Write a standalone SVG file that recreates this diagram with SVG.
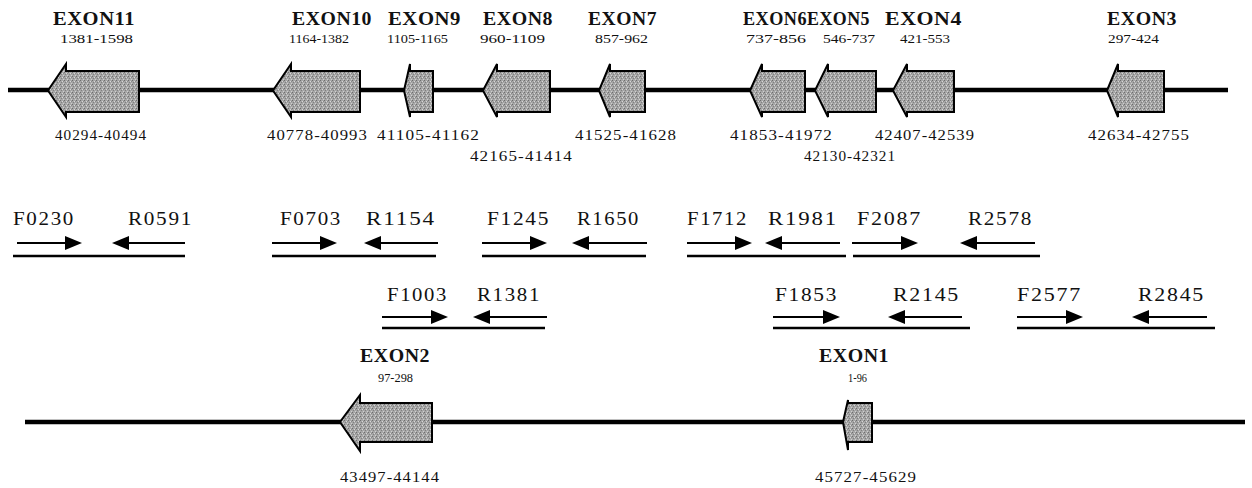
<svg xmlns="http://www.w3.org/2000/svg" width="1252" height="488" viewBox="0 0 1252 488">
<defs>
<style>
.ex{font-family:"Liberation Serif",serif;font-weight:bold;font-size:19px;fill:#111;letter-spacing:0.5px}
.sm{font-family:"Liberation Serif",serif;font-size:12.5px;fill:#111}
.num{font-family:"Liberation Serif",serif;font-size:15.5px;fill:#111;letter-spacing:1px}
.pr{font-family:"Liberation Serif",serif;font-size:19px;fill:#111;letter-spacing:1.5px}
.exon{fill:url(#stip);stroke:#000;stroke-width:2;stroke-linejoin:miter}
.bb{stroke:#000;stroke-width:4.5;fill:none}
.pa{stroke:#000;stroke-width:2;fill:none;marker-end:url(#ah)}
.ul{stroke:#000;stroke-width:2.5;fill:none}
</style>
<pattern id="stip" width="4" height="4" patternUnits="userSpaceOnUse">
<rect width="4" height="4" fill="#a6a6a6"/>
<rect x="0" y="0" width="1" height="1" fill="#6e6e6e"/>
<rect x="2" y="1" width="1" height="1" fill="#d8d8d8"/>
<rect x="1" y="2" width="1" height="1" fill="#808080"/>
<rect x="3" y="3" width="1" height="1" fill="#cfcfcf"/>
<rect x="3" y="1" width="1" height="1" fill="#8a8a8a"/>
</pattern>
<marker id="ah" markerUnits="userSpaceOnUse" markerWidth="17" markerHeight="14" refX="8" refY="7" orient="auto">
<path d="M0,0 L17,7 L0,14 z" fill="#000"/>
</marker>
</defs>
<rect width="1252" height="488" fill="#fff"/>

<g id="connectors">
<line class="bb" x1="8" y1="90" x2="1228" y2="90"/>
<line class="bb" x1="25" y1="422" x2="1245" y2="422"/>
<line class="ul" x1="13" y1="256" x2="185" y2="256"/>
<line class="ul" x1="272" y1="256" x2="436" y2="256"/>
<line class="ul" x1="482" y1="256" x2="646" y2="256"/>
<line class="ul" x1="687" y1="256" x2="846" y2="256"/>
<line class="ul" x1="853" y1="256" x2="1040" y2="256"/>
<line class="ul" x1="382" y1="328" x2="545" y2="328"/>
<line class="ul" x1="773" y1="328" x2="970" y2="328"/>
<line class="ul" x1="1017" y1="328" x2="1215" y2="328"/>
</g>

<g id="exon11">
<polygon class="exon" points="139,71 66,71 66,64 48,90.5 66,117 66,112 139,112"/>
<text class="ex" x="53" y="25" textLength="82" lengthAdjust="spacingAndGlyphs">EXON11</text>
<text class="sm" x="60" y="43" textLength="73" lengthAdjust="spacingAndGlyphs">1381-1598</text>
<text class="num" x="55" y="140" textLength="92" lengthAdjust="spacingAndGlyphs">40294-40494</text>
</g>
<g id="exon10">
<polygon class="exon" points="360,71 291,71 291,64 273,90.5 291,117 291,112 360,112"/>
<text class="ex" x="292" y="25" textLength="80" lengthAdjust="spacingAndGlyphs">EXON10</text>
<text class="sm" x="289" y="43" textLength="60" lengthAdjust="spacingAndGlyphs">1164-1382</text>
<text class="num" x="267" y="140" textLength="101" lengthAdjust="spacingAndGlyphs">40778-40993</text>
</g>
<g id="exon9">
<polygon class="exon" points="433,71 410,71 410,64 404,90.5 410,117 410,112 433,112"/>
<text class="ex" x="388" y="25" textLength="73" lengthAdjust="spacingAndGlyphs">EXON9</text>
<text class="sm" x="387" y="43" textLength="61" lengthAdjust="spacingAndGlyphs">1105-1165</text>
<text class="num" x="377" y="140" textLength="103" lengthAdjust="spacingAndGlyphs">41105-41162</text>
</g>
<g id="exon8">
<polygon class="exon" points="550,71 497,71 497,64 483,90.5 497,117 497,112 550,112"/>
<text class="ex" x="483" y="25" textLength="70" lengthAdjust="spacingAndGlyphs">EXON8</text>
<text class="sm" x="480" y="43" textLength="65" lengthAdjust="spacingAndGlyphs">960-1109</text>
<text class="num" x="470" y="161" textLength="103" lengthAdjust="spacingAndGlyphs">42165-41414</text>
</g>
<g id="exon7">
<polygon class="exon" points="645,71 610,71 610,64 599,90.5 610,117 610,112 645,112"/>
<text class="ex" x="588" y="25" textLength="69" lengthAdjust="spacingAndGlyphs">EXON7</text>
<text class="sm" x="595" y="43" textLength="53" lengthAdjust="spacingAndGlyphs">857-962</text>
<text class="num" x="575" y="140" textLength="102" lengthAdjust="spacingAndGlyphs">41525-41628</text>
</g>
<g id="exon6">
<polygon class="exon" points="805,71 762,71 762,64 750,90.5 762,117 762,112 805,112"/>
<text class="ex" x="743" y="25" textLength="64" lengthAdjust="spacingAndGlyphs">EXON6</text>
<text class="sm" x="746" y="43" textLength="60" lengthAdjust="spacingAndGlyphs">737-856</text>
<text class="num" x="730" y="140" textLength="103" lengthAdjust="spacingAndGlyphs">41853-41972</text>
</g>
<g id="exon5">
<polygon class="exon" points="876,71 828,71 828,64 815,90.5 828,117 828,112 876,112"/>
<text class="ex" x="807" y="25" textLength="63" lengthAdjust="spacingAndGlyphs">EXON5</text>
<text class="sm" x="823" y="43" textLength="52" lengthAdjust="spacingAndGlyphs">546-737</text>
<text class="num" x="804" y="161" textLength="92" lengthAdjust="spacingAndGlyphs">42130-42321</text>
</g>
<g id="exon4">
<polygon class="exon" points="954,71 907,71 907,64 893,90.5 907,117 907,112 954,112"/>
<text class="ex" x="885" y="25" textLength="77" lengthAdjust="spacingAndGlyphs">EXON4</text>
<text class="sm" x="900" y="43" textLength="50" lengthAdjust="spacingAndGlyphs">421-553</text>
<text class="num" x="875" y="140" textLength="100" lengthAdjust="spacingAndGlyphs">42407-42539</text>
</g>
<g id="exon3">
<polygon class="exon" points="1164,71 1118,71 1118,64 1107,90.5 1118,117 1118,112 1164,112"/>
<text class="ex" x="1107" y="25" textLength="70" lengthAdjust="spacingAndGlyphs">EXON3</text>
<text class="sm" x="1108" y="43" textLength="51" lengthAdjust="spacingAndGlyphs">297-424</text>
<text class="num" x="1088" y="140" textLength="102" lengthAdjust="spacingAndGlyphs">42634-42755</text>
</g>
<g id="exon2">
<polygon class="exon" points="432,403 360,403 360,395 340,422 360,451 360,442 432,442"/>
<text class="ex" x="360" y="362" textLength="70" lengthAdjust="spacingAndGlyphs">EXON2</text>
<text class="sm" x="378" y="382" textLength="35" lengthAdjust="spacingAndGlyphs">97-298</text>
<text class="num" x="340" y="482" textLength="100" lengthAdjust="spacingAndGlyphs">43497-44144</text>
</g>
<g id="exon1">
<polygon class="exon" points="872,403 848,403 848,400 843,422 848,450 848,442 872,442"/>
<text class="ex" x="819" y="362" textLength="70" lengthAdjust="spacingAndGlyphs">EXON1</text>
<text class="sm" x="848" y="382" textLength="19" lengthAdjust="spacingAndGlyphs">1-96</text>
<text class="num" x="815" y="482" textLength="102" lengthAdjust="spacingAndGlyphs">45727-45629</text>
</g>

<g id="primers-0230-0591">
<text class="pr" x="13" y="225" textLength="62" lengthAdjust="spacingAndGlyphs">F0230</text>
<text class="pr" x="128" y="225" textLength="65" lengthAdjust="spacingAndGlyphs">R0591</text>
<line class="pa" x1="17" y1="243" x2="73" y2="243"/>
<line class="pa" x1="185" y1="243" x2="121" y2="243"/>
</g>
<g id="primers-0703-1154">
<text class="pr" x="280" y="225" textLength="62" lengthAdjust="spacingAndGlyphs">F0703</text>
<text class="pr" x="366" y="225" textLength="70" lengthAdjust="spacingAndGlyphs">R1154</text>
<line class="pa" x1="272" y1="243" x2="328" y2="243"/>
<line class="pa" x1="438" y1="243" x2="373" y2="243"/>
</g>
<g id="primers-1245-1650">
<text class="pr" x="487" y="225" textLength="63" lengthAdjust="spacingAndGlyphs">F1245</text>
<text class="pr" x="577" y="225" textLength="63" lengthAdjust="spacingAndGlyphs">R1650</text>
<line class="pa" x1="482" y1="243" x2="538" y2="243"/>
<line class="pa" x1="647" y1="243" x2="581" y2="243"/>
</g>
<g id="primers-1712-1981">
<text class="pr" x="687" y="225" textLength="61" lengthAdjust="spacingAndGlyphs">F1712</text>
<text class="pr" x="768" y="225" textLength="70" lengthAdjust="spacingAndGlyphs">R1981</text>
<line class="pa" x1="687" y1="243" x2="743" y2="243"/>
<line class="pa" x1="840" y1="243" x2="774" y2="243"/>
</g>
<g id="primers-2087-2578">
<text class="pr" x="857" y="225" textLength="65" lengthAdjust="spacingAndGlyphs">F2087</text>
<text class="pr" x="968" y="225" textLength="65" lengthAdjust="spacingAndGlyphs">R2578</text>
<line class="pa" x1="852" y1="243" x2="909" y2="243"/>
<line class="pa" x1="1035" y1="243" x2="969" y2="243"/>
</g>
<g id="primers-1003-1381">
<text class="pr" x="387" y="301" textLength="61" lengthAdjust="spacingAndGlyphs">F1003</text>
<text class="pr" x="477" y="301" textLength="64" lengthAdjust="spacingAndGlyphs">R1381</text>
<line class="pa" x1="382" y1="317" x2="439" y2="317"/>
<line class="pa" x1="547" y1="317" x2="482" y2="317"/>
</g>
<g id="primers-1853-2145">
<text class="pr" x="775" y="301" textLength="63" lengthAdjust="spacingAndGlyphs">F1853</text>
<text class="pr" x="893" y="301" textLength="67" lengthAdjust="spacingAndGlyphs">R2145</text>
<line class="pa" x1="773" y1="317" x2="831" y2="317"/>
<line class="pa" x1="962" y1="317" x2="897" y2="317"/>
</g>
<g id="primers-2577-2845">
<text class="pr" x="1017" y="301" textLength="65" lengthAdjust="spacingAndGlyphs">F2577</text>
<text class="pr" x="1138" y="301" textLength="67" lengthAdjust="spacingAndGlyphs">R2845</text>
<line class="pa" x1="1017" y1="317" x2="1074" y2="317"/>
<line class="pa" x1="1207" y1="317" x2="1141" y2="317"/>
</g>
</svg>
